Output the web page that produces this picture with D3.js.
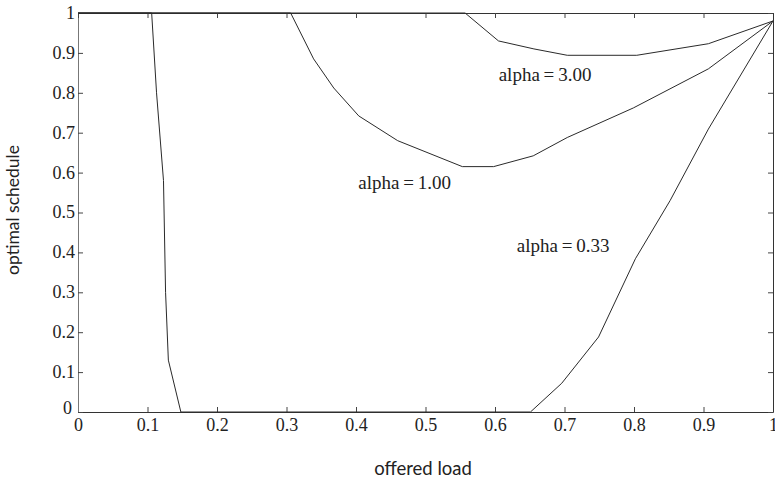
<!DOCTYPE html>
<html>
<head>
<meta charset="utf-8">
<script src="https://cdn.jsdelivr.net/npm/d3@7"></script>
<style>
  body { margin: 0; background: #fff; }
  .tick text { font-family: "Liberation Serif", "DejaVu Serif", serif; font-size: 18px; fill: #222; }
  .lbl { font-family: "Liberation Serif", serif; font-size: 19px; fill: #222; }
  .ttl { font-family: Lato, "Open Sans", sans-serif; font-size: 18.5px; fill: #222; }
</style>
</head>
<body>
<div id="viz"></div>
<script>
  var xTicks = [0, 0.1, 0.2, 0.3, 0.4, 0.5, 0.6, 0.7, 0.8, 0.9, 1];
  var yTicks = [0, 0.1, 0.2, 0.3, 0.4, 0.5, 0.6, 0.7, 0.8, 0.9, 1];
  var xTickLabels = ["0", "0.1", "0.2", "0.3", "0.4", "0.5", "0.6", "0.7", "0.8", "0.9", "1"];

  // offered load -> optimal schedule
  var load033 = [0, 0.106, 0.113, 0.123, 0.126, 0.130, 0.148, 0.651, 0.696, 0.749, 0.802, 0.852, 0.907, 1.0];
  var sched033 = [1, 1, 0.8, 0.58, 0.3, 0.13, 0, 0, 0.072, 0.188, 0.384, 0.53, 0.709, 0.98];

  var load100 = [0, 0.306, 0.339, 0.368, 0.404, 0.460, 0.553, 0.598, 0.655, 0.704, 0.799, 0.907, 1.0];
  var sched100 = [1, 1, 0.885, 0.812, 0.742, 0.68, 0.615, 0.615, 0.642, 0.688, 0.762, 0.86, 0.98];

  var load300 = [0, 0.557, 0.605, 0.656, 0.704, 0.804, 0.907, 1.0];
  var sched300 = [1, 1, 0.93, 0.91, 0.894, 0.894, 0.923, 0.98];

  var labels = ["alpha\u2009=\u20093.00", "alpha\u2009=\u20091.00", "alpha\u2009=\u20090.33"];
  var labelX = [0.672, 0.47, 0.698];
  var labelY = [0.83, 0.56, 0.4];

(function() {
  var W = 775, H = 480;
  var mLeft = 78, mRight = 773, mTop = 13, mBottom = 412;

  var svg = d3.select("#viz").append("svg").attr("width", W).attr("height", H);

  var x = d3.scaleLinear().domain([0, 1]).range([mLeft, mRight]);
  var y = d3.scaleLinear().domain([0, 1]).range([mBottom, mTop]);

  var fmtY = function(d) { return d === 0 || d === 1 ? String(d) : d.toFixed(1); };

  // axes with inward ticks, boxed
  var gx = svg.append("g").attr("transform", "translate(0," + mBottom + ")")
    .call(d3.axisBottom(x).tickValues(xTicks).tickFormat(function(d, i) { return xTickLabels[i]; })
      .tickSizeInner(-5).tickSizeOuter(0).tickPadding(4));
  var gy = svg.append("g").attr("transform", "translate(" + mLeft + ",0)")
    .call(d3.axisLeft(y).tickValues(yTicks).tickFormat(fmtY).tickSizeInner(-5).tickSizeOuter(0).tickPadding(3));
  var gt = svg.append("g").attr("transform", "translate(0," + mTop + ")")
    .call(d3.axisTop(x).tickValues(xTicks).tickFormat("").tickSizeInner(-5).tickSizeOuter(0));
  var gr = svg.append("g").attr("transform", "translate(" + mRight + ",0)")
    .call(d3.axisRight(y).tickValues(yTicks).tickFormat("").tickSizeInner(-5).tickSizeOuter(0));

  [gx, gy, gt, gr].forEach(function(g) {
    g.select(".domain").attr("stroke", "#333");
    g.selectAll(".tick line").attr("stroke", "#444");
  });
  gy.select(".domain").attr("stroke", "#777");
  gx.selectAll(".tick text").attr("dy", "0.83em");
  gy.selectAll(".tick text").attr("dy", "0.3em");
  // corner zeros sit a little apart
  gy.selectAll(".tick text").filter(function(d) { return d === 0; }).attr("dy", "0.1em").attr("x", -6);

  var line = d3.line().x(function(d) { return x(d[0]); }).y(function(d) { return y(d[1]); });

  var series = [[load300, sched300], [load100, sched100], [load033, sched033]];
  series.forEach(function(s) {
    var pts = s[0].map(function(v, i) { return [v, s[1][i]]; });
    svg.append("path").datum(pts).attr("d", line)
      .attr("fill", "none").attr("stroke", "#2a2a2a").attr("stroke-width", 1);
  });

  labels.forEach(function(t, i) {
    svg.append("text").attr("class", "lbl").attr("x", x(labelX[i])).attr("y", y(labelY[i]))
      .attr("text-anchor", "middle").text(t);
  });

  svg.append("text").attr("class", "ttl").attr("x", 423).attr("y", 475)
    .attr("text-anchor", "middle").text("offered load");
  svg.append("text").attr("class", "ttl").style("font-size", "17.5px")
    .attr("transform", "translate(19,210) rotate(-90)")
    .attr("text-anchor", "middle").text("optimal schedule");
})();
</script>
</body>
</html>
